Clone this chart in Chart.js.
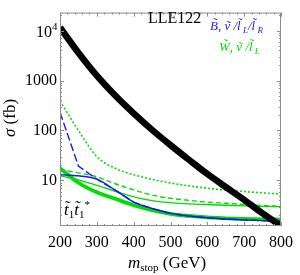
<!DOCTYPE html>
<html><head><meta charset="utf-8">
<script src="https://cdn.jsdelivr.net/npm/chart.js@4.4.1/dist/chart.umd.min.js"></script>
<style>html,body{margin:0;padding:0;background:#fff;}canvas{display:block;}</style>
</head><body>
<canvas id="c" width="300" height="275"></canvas>
<script>
// ---- data ----
const massGeV      = [200, 250, 300, 350, 400, 450, 500, 550, 600, 650, 700, 750, 800];
const stopPairXsec = [11500, 3600, 1250, 500, 220, 103, 51, 26, 13.5, 7.4, 4.1, 2.2, 1.23];
const blueDashed   = [232, 19.5, 10.6, 6.4, 3.7, 2.75, 2.2, 1.95, 1.8, 1.7, 1.63, 1.57, 1.52];
const blueSolid    = [13.1, 12.4, 10.6, 6.4, 3.7, 2.75, 2.2, 1.95, 1.8, 1.7, 1.63, 1.57, 1.52];
const greenThick   = [17.5, 9.0, 5.8, 4.3, 3.2, 2.55, 2.15, 1.95, 1.82, 1.75, 1.7, 1.67, 1.65];
const greenThin    = [12.4, 10.3, 8.0, 6.1, 4.7, 3.95, 3.6, 3.4, 3.3, 3.2, 3.1, 3.03, 2.98];
const greenDashed  = [16.5, 14.2, 11.8, 8.6, 6.5, 5.1, 4.4, 4.0, 3.7, 3.5, 3.3, 3.15, 3.05];
const greenDotted  = [390, 100, 30, 17.5, 13, 10.5, 8.9, 7.8, 7.0, 6.4, 6.0, 5.65, 5.35];
const xTickValues  = [200, 300, 400, 500, 600, 700, 800];
const yTickValues  = [10, 100, 1000, 10000];

const pts = arr => massGeV.map((m, i) => ({x: m, y: arr[i]}));
const GREEN = '#00dd00', BLUE = '#1a1af2', SERIF = '"Liberation Serif", "Times New Roman", serif';

function drawRich(ctx, x, y, parts, align) {
  let w = 0;
  parts.forEach(p => { ctx.font = (p.it ? 'italic ' : '') + p.s + 'px ' + SERIF; p.w = ctx.measureText(p.t).width; w += p.w; });
  let cx = align === 'center' ? x - w / 2 : x;
  parts.forEach(p => {
    ctx.font = (p.it ? 'italic ' : '') + p.s + 'px ' + SERIF;
    ctx.fillStyle = p.c || '#000';
    ctx.textAlign = 'left'; ctx.textBaseline = 'alphabetic';
    ctx.fillText(p.t, cx, y + (p.dy || 0));
    if (p.tl !== undefined) {
      ctx.font = p.s + 'px ' + SERIF;
      ctx.textAlign = 'center';
      ctx.fillText('\u02DC', cx + p.w / 2 + (p.it ? 1.5 : 0), y + (p.dy || 0) + p.tl);
    }
    cx += p.w;
  });
}

const framePlugin = {
  id: 'frame',
  afterDatasetsDraw(chart) {
    const {ctx, chartArea: a, scales: {x, y}} = chart;
    ctx.save();
    ctx.strokeStyle = '#8c8c8c'; ctx.lineWidth = 1;
    ctx.strokeRect(a.left + 0.5, a.top + 0.5, a.right - a.left - 1, a.bottom - a.top - 1);
    ctx.beginPath();
    for (let v = 200; v <= 800; v += 20) {
      const px = Math.round(x.getPixelForValue(v)) + 0.5;
      const L = (v % 100 === 0) ? 4 : 2;
      ctx.moveTo(px, a.bottom); ctx.lineTo(px, a.bottom - L);
      ctx.moveTo(px, a.top); ctx.lineTo(px, a.top + L);
    }
    for (let d = 1; d <= 10000; d *= 10) {
      for (let k = 1; k <= 9; k++) {
        const v = d * k;
        if (v < y.min || v > y.max) continue;
        const py = Math.round(y.getPixelForValue(v)) + 0.5;
        const L = k === 1 ? 4 : 2;
        ctx.moveTo(a.left, py); ctx.lineTo(a.left + L, py);
        ctx.moveTo(a.right, py); ctx.lineTo(a.right - L, py);
      }
    }
    ctx.stroke();
    // 10^4 label
    const p4 = y.getPixelForValue(10000);
    drawRich(ctx, 36, p4 + 6, [{t: '10', s: 16}, {t: '4', s: 11, dy: -7}]);
    // axis titles
    drawRich(ctx, 128, 268, [{t: 'm', s: 17, it: true}, {t: 'stop', s: 11, dy: 3}, {t: ' (GeV)', s: 17}]);
    ctx.save(); ctx.translate(15, 118); ctx.rotate(-Math.PI / 2);
    drawRich(ctx, 0, 0, [{t: 'σ', s: 17, it: true}, {t: ' (fb)', s: 17}], 'center');
    ctx.restore();
    // labels inside
    drawRich(ctx, 148, 23, [{t: 'LLE122', s: 16}]);
    drawRich(ctx, 210, 30, [
      {t: 'B', s: 13, it: true, c: BLUE, tl: -3}, {t: ', ', s: 13, it: true, c: BLUE},
      {t: 'ν', s: 13, it: true, c: BLUE, tl: 0}, {t: ' /', s: 13, it: true, c: BLUE},
      {t: 'l', s: 13, it: true, c: BLUE, tl: -3}, {t: ' L', s: 9, it: true, dy: 3, c: BLUE},
      {t: '/', s: 13, it: true, c: BLUE}, {t: 'l', s: 13, it: true, c: BLUE, tl: -3},
      {t: ' R', s: 9, it: true, dy: 3, c: BLUE}]);
    drawRich(ctx, 219, 51, [
      {t: 'W', s: 13, it: true, c: GREEN, tl: -3}, {t: ', ', s: 13, it: true, c: GREEN},
      {t: 'ν', s: 13, it: true, c: GREEN, tl: 0}, {t: ' /', s: 13, it: true, c: GREEN},
      {t: 'l', s: 13, it: true, c: GREEN, tl: -3}, {t: ' L', s: 9, it: true, dy: 3, c: GREEN}]);
    drawRich(ctx, 64, 215, [
      {t: 't', s: 17, it: true, tl: -3}, {t: '1', s: 11, dy: 3},
      {t: 't', s: 17, it: true, tl: -3}, {t: '1', s: 11, dy: 3}, {t: '*', s: 11, dy: -7}]);
    ctx.restore();
  }
};

const thin = 1.4;
new Chart(document.getElementById('c'), {
  type: 'line',
  data: {
    datasets: [
      {data: pts(stopPairXsec), borderColor: '#000', borderWidth: 6.5, cubicInterpolationMode: 'monotone'},
      {data: pts(blueDashed), borderColor: BLUE, borderWidth: thin, borderDash: [8, 3], tension: 0},
      {data: pts(blueSolid), borderColor: BLUE, borderWidth: thin, cubicInterpolationMode: 'monotone'},
      {data: pts(greenThick), borderColor: GREEN, borderWidth: 3.8, cubicInterpolationMode: 'monotone'},
      {data: pts(greenThin), borderColor: GREEN, borderWidth: thin, cubicInterpolationMode: 'monotone'},
      {data: pts(greenDashed), borderColor: GREEN, borderWidth: thin, borderDash: [5, 3], cubicInterpolationMode: 'monotone'},
      {data: pts(greenDotted), borderColor: GREEN, borderWidth: 1.6, borderDash: [2, 2], cubicInterpolationMode: 'monotone'}
    ]
  },
  options: {
    responsive: false, animation: false, devicePixelRatio: 1,
    layout: {padding: {left: 0, top: 1, right: 13, bottom: 0}},
    elements: {point: {radius: 0}, line: {fill: false}},
    plugins: {legend: {display: false}, tooltip: {enabled: false}},
    scales: {
      x: {
        type: 'linear', min: 200, max: 800,
        grid: {display: false, drawTicks: false}, border: {display: false},
        afterBuildTicks: s => { s.ticks = xTickValues.map(v => ({value: v})); },
        ticks: {color: '#000', font: {family: SERIF, size: 16}, padding: 7, maxRotation: 0, autoSkip: false},
        afterFit: s => { s.height = 49; }
      },
      y: {
        type: 'logarithmic', min: 1.228, max: 22850,
        grid: {display: false, drawTicks: false}, border: {display: false},
        afterBuildTicks: s => { s.ticks = yTickValues.map(v => ({value: v})); },
        ticks: {color: '#000', font: {family: SERIF, size: 16}, padding: 3, autoSkip: false,
                callback: v => (v === 10000 ? '' : String(v))},
        afterFit: s => { s.width = 60; }
      }
    }
  },
  plugins: [framePlugin]
});
</script>
</body></html>
